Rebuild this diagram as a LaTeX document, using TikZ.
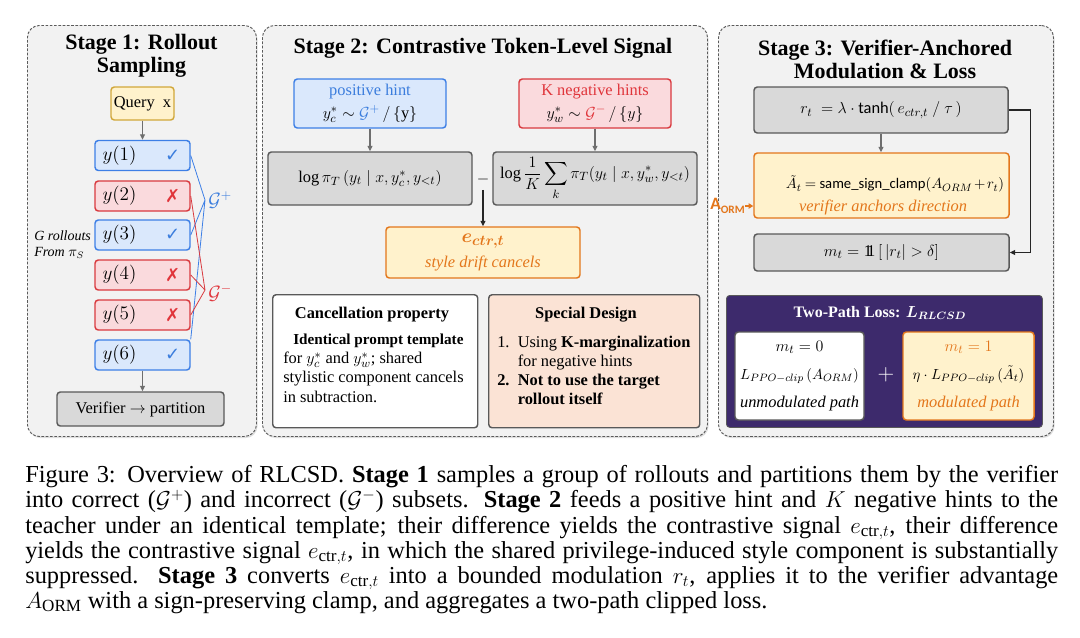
\documentclass[tikz,border=0pt]{standalone}
\usepackage{amsmath,amssymb,bm}
\usepackage{fontspec}
\setmainfont{Liberation Serif}
\newfontfamily\calib{Carlito}
\newfontfamily\djv{DejaVu Sans}
\usetikzlibrary{arrows.meta,shadows}

\definecolor{panelfill}{HTML}{F2F2F2}
\definecolor{panelline}{HTML}{5A5A5A}
\definecolor{grayfill}{HTML}{D9D9D9}
\definecolor{grayline}{HTML}{595959}
\definecolor{bluefill}{HTML}{DAE8FC}
\definecolor{blueline}{HTML}{3D7FE6}
\definecolor{bluetext}{HTML}{3B7DDD}
\definecolor{redfill}{HTML}{FADADD}
\definecolor{redline}{HTML}{D93A3F}
\definecolor{redtext}{HTML}{E0353B}
\definecolor{yellowfill}{HTML}{FFF2CC}
\definecolor{goldline}{HTML}{D1A73A}
\definecolor{orangeline}{HTML}{E3761B}
\definecolor{orangetext}{HTML}{E3761B}
\definecolor{peachfill}{HTML}{FBE3D5}
\definecolor{purplefill}{HTML}{3D2A6C}
\definecolor{arrowgray}{HTML}{6E6E6E}

\newcommand\capline[1]{\makebox[774.75pt][s]{#1}}
\newcommand\indic{\mathrm{1}\mkern-5.5mu\mathrm{1}}

\tikzset{
  px/.style 2 args={minimum width=#1*0.75pt, minimum height=#2*0.75pt},
  panel/.style={draw=panelline, dash pattern=on 2pt off 1.2pt, fill=panelfill, rounded corners=9pt, line width=0.7pt, inner sep=0pt,
    drop shadow={opacity=0.25, shadow xshift=0.8pt, shadow yshift=-1.2pt}},
  bx/.style={rounded corners=2.5pt, line width=1.1pt, inner sep=0pt},
  graybox/.style={bx, draw=grayline, fill=grayfill},
  bluebox/.style={bx, draw=blueline, fill=bluefill},
  redbox/.style={bx, draw=redline, fill=redfill},
  querybox/.style={bx, draw=goldline, fill=yellowfill},
  orangebox/.style={bx, draw=orangeline, fill=yellowfill},
  whitebox/.style={bx, draw=grayline, fill=white},
  peachbox/.style={bx, draw=grayline, fill=peachfill},
  purplebox/.style={bx, draw=grayline, fill=purplefill, line width=0.6pt},
  arr/.style={draw=arrowgray, line width=0.8pt, -{Triangle[length=4pt,width=3.6pt]}},
  darr/.style={draw=black!85, line width=0.8pt, -{Triangle[length=4pt,width=3.6pt]}},
  stagetitle/.style={font=\fontsize{16.5}{17.3}\selectfont\bfseries, align=center, inner sep=0pt},
  txt/.style={font=\fontsize{12.3}{14}\selectfont},
  btxt/.style={font=\fontsize{12.3}{14}\selectfont\bfseries},
}

\begin{document}
\begin{tikzpicture}[x=0.75pt,y=-0.75pt]
\fill[white] (0,0) rectangle (1080,637);
\useasboundingbox (0,0) rectangle (1080,637);

% ---------------- Stage 1 ----------------
\node[panel, px={229}{411}, anchor=north west] (p1) at (27,25) {};
\node[stagetitle] (t1) at (141.5,55.5) {Stage 1: Rollout\\Sampling};
\node[querybox, px={63}{33}, txt] (q) at (142.5,103.5) {Query~~x};

\foreach \i/\yy/\st/\mk/\mc in {1/155.5/bluebox/✓/bluetext, 2/196/redbox/✗/redtext, 3/235/bluebox/✓/bluetext,
                                4/275/redbox/✗/redtext, 5/315/redbox/✗/redtext, 6/355/bluebox/✓/bluetext}{
  \node[\st, px={95}{30}] (y\i) at (142.5,\yy) {};
  \node[anchor=west, font=\fontsize{13.5}{14}\selectfont, inner sep=0pt] (yl\i) at ([xshift=6pt]y\i.west) {$y(\i)$};
  \node[font=\djv\fontsize{13.5}{14}\selectfont, text=\mc, inner sep=0pt] (ym\i) at ([xshift=-13.5pt]y\i.east) {\mk};
}
\draw[arr] (q) -- (y1);

\node[graybox, px={167}{34}, txt] (ver) at (140.5,409) {Verifier $\rightarrow$ partition};
\draw[arr] (y6.south) -- (y6.south |- ver.north);

\node[anchor=west, align=left, font=\fontsize{10.5}{12}\selectfont\itshape, inner sep=0pt] (gro) at (34,245) {G rollouts\\From $\pi_S$};

\coordinate (gp) at (205,200);
\coordinate (gm) at (205,290);
\draw[blueline, line width=0.6pt] (y1.east) -- (gp) (y3.east) -- (gp) (y6.north east) -- (gp);
\draw[redline, line width=0.6pt] (y2.east) -- (gm) (y4.east) -- (gm) (y5.east) -- (gm);
\node[anchor=west, text=bluetext, font=\fontsize{14}{14}\selectfont, inner sep=0pt] (gpl) at (208,200) {$\mathcal{G}^{+}$};
\node[anchor=west, text=redtext, font=\fontsize{14}{14}\selectfont, inner sep=0pt] (gml) at (208,293) {$\mathcal{G}^{-}$};

% ---------------- Stage 2 ----------------
\node[panel, px={445}{411}, anchor=north west] (p2) at (262,25) {};
\node[stagetitle] (t2) at (483,48) {Stage 2: Contrastive Token-Level Signal};

\node[bluebox, px={152}{49}, align=center, font=\fontsize{12.3}{17}\selectfont] (pos) at (370,103.5)
  {{\color{bluetext}positive hint}\\$y_c^{*} \sim {\color{bluetext}\mathcal{G}^{+}}\,/\,\{\mathrm{y}\}$};
\node[redbox, px={152}{49}, align=center, font=\fontsize{12.3}{17}\selectfont] (neg) at (595,103.5)
  {{\color{redtext}K negative hints}\\$y_w^{*} \sim {\color{redtext}\mathcal{G}^{-}}\,/\,\{y\}$};

\node[graybox, px={204}{53}, txt] (lg) at (370,178.5) {$\log \pi_T\,(y_t \mid x, y_c^{*}, y_{<t})$};
\node[graybox, px={204}{53}, txt] (rg) at (595,178.5) {$\displaystyle \log \frac{1}{K} \sum_{k} \pi_T(y_t \mid x, y_w^{*}, y_{<t})$};
\draw[arr] (pos) -- (lg);
\draw[arr] (neg) -- (rg);
\node[font=\fontsize{13}{13}\selectfont, inner sep=1pt] (minus) at (483,179) {$-$};

\node[orangebox, px={194}{51}, align=center, text=orangetext, font=\fontsize{12.3}{19}\selectfont] (ec) at (483,252.5)
  {{\fontsize{15.5}{16}\selectfont$\bm{e_{ctr,t}}$}\\\itshape style drift cancels};
\draw[darr] ([yshift=-3pt]minus.south) -- (minus.south |- ec.north);

\node[whitebox, px={205}{133}, anchor=north west] (cp) at (272,294) {};
\node[btxt] (cpt) at (372,315) {Cancellation property};
\node[anchor=north west, align=left, font=\fontsize{12.3}{14.3}\selectfont, inner sep=0pt] (cpb) at (283,334)
  {\hspace*{7.5pt}{\fontsize{11.4}{14.3}\selectfont\textbf{Identical prompt template}}\\for $y_c^{*}$\ and $y_w^{*}$; shared\\stylistic component cancels\\in subtraction.};

\node[peachbox, px={211}{133}, anchor=north west] (sd) at (488,294) {};
\node[btxt] (sdt) at (586,315) {Special Design};
\node[anchor=north west, font=\fontsize{12.3}{14.3}\selectfont, inner sep=0pt] (sdb) at (497,334)
  {\begin{tabular}{@{}l@{\ \ }l@{}}1. & Using \textbf{K-marginalization}\\ & for negative hints\\ \textbf{2.} & \textbf{Not to use the target}\\ & \textbf{rollout itself}\end{tabular}};

% ---------------- Stage 3 ----------------
\node[panel, px={335}{411}, anchor=north west] (p3) at (718,25) {};
\node[stagetitle] (t3) at (885,59) {Stage 3: Verifier-Anchored\\Modulation \& Loss};

\node[graybox, px={254}{46}, txt] (rt) at (881,110) {$r_t\ = \lambda\cdot\text{\calib tanh}(\,e_{ctr,t}\ /\ \tau\,)$};
\node[orangebox, px={255}{65}] (at) at (881.5,185.5) {};
\node[inner sep=0pt, font=\fontsize{11}{12}\selectfont] (atl1) at (895,184)
  {$\tilde A_t \mkern-1mu=\mkern-1mu \text{\calib same\_sign\_clamp}(A_{ORM} \mkern-2mu+\mkern-2mu r_t)$};
\node[inner sep=0pt, text=orangetext, font=\fontsize{12.3}{14}\selectfont\itshape] (atl2) at (883,207) {verifier anchors direction};
\draw[arr] (rt.south) -- (rt.south |- at.north);

\node[anchor=east, text=orangetext, font=\calib\bfseries, inner sep=0pt] (aorm) at (745,206)
  {{\fontsize{13}{13}\selectfont A}{\fontsize{8.5}{9}\selectfont\raisebox{-2.5pt}{ORM}}};
\draw[draw=orangeline, line width=0.8pt, -{Triangle[length=3.5pt,width=4pt]}] (aorm.east) -- (aorm.east -| at.west);

\node[graybox, px={255}{37}, txt] (mt) at (881.5,252.5) {$m_t = \indic\,[\,|r_t| > \delta]$};
\draw[darr] (rt.east) -- ++(22,0) |- (mt.east);

\node[purplebox, px={316}{132}, anchor=north west] (pl) at (726,295) {};
\node[text=white, font=\fontsize{12}{14}\selectfont\bfseries] (plt) at (880,313) {Two-Path Loss: $\bm{L_{RLCSD}}$};
\node[whitebox, px={129}{88}, align=center, font=\fontsize{11}{21}\selectfont] (lw) at (799.5,376)
  {{\fontsize{12.3}{21}\selectfont$m_t = 0$}\\$L_{PPO-clip}\,(A_{ORM})$\\{\fontsize{12.3}{21}\selectfont\itshape unmodulated path}};
\node[orangebox, px={131}{88}, align=center, font=\fontsize{11}{21}\selectfont] (lo) at (968.5,376)
  {{\fontsize{12.3}{21}\selectfont\color{orangetext}$m_t = 1$}\\$\eta\cdot L_{PPO-clip}\,(\tilde A_t)$\\{\fontsize{12.3}{21}\selectfont\color{orangetext}\itshape modulated path}};
\node[text=white, font=\fontsize{16}{16}\selectfont, inner sep=0pt] (plus) at (886,375) {$+$};

% ---------------- Caption ----------------
\begin{scope}[every node/.style={anchor=base west, inner sep=0pt, font=\fontsize{18.3}{21}\selectfont}]
\node (c1) at (25,482) {\capline{Figure 3: Overview of RLCSD. \textbf{Stage 1} samples a group of rollouts and partitions them by the verifier}};
\node (c2) at (25,507.5) {\capline{into correct ($\mathcal{G}^{+}$) and incorrect ($\mathcal{G}^{-}$) subsets. \textbf{Stage 2} feeds a positive hint and $K$ negative hints to the}};
\node (c3) at (25,533) {\capline{teacher under an identical template; their difference yields the contrastive signal $e_{\mathrm{ctr},t}$, their difference}};
\node (c4) at (25,558) {\capline{yields the contrastive signal $e_{\mathrm{ctr},t}$, in which the shared privilege-induced style component is substantially}};
\node (c5) at (25,583) {\capline{suppressed. \textbf{Stage 3} converts $e_{\mathrm{ctr},t}$ into a bounded modulation $r_t$, applies it to the verifier advantage}};
\node (c6) at (25,608) {$A_{\mathrm{ORM}}$ with a sign-preserving clamp, and aggregates a two-path clipped loss.};
\end{scope}
\end{tikzpicture}
\end{document}
